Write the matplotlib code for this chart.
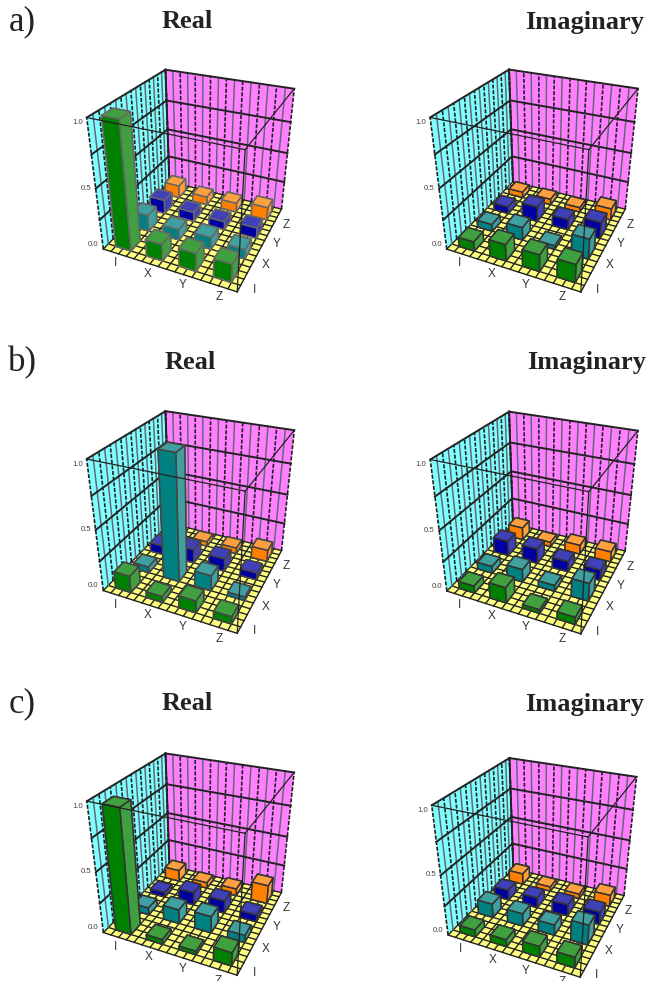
import numpy as np
import matplotlib
matplotlib.use("Agg")
import matplotlib.pyplot as plt

plt.rcParams['font.family'] = ['Liberation Sans', 'DejaVu Sans']

paulis = ["I", "X", "Y", "Z"]
z_ticks = [0.0, 0.5, 1.0]
row_labels = ["a)", "b)", "c)"]
titles = ["Real", "Imaginary"]

# one row per second index (I, X, Y, Z), one column per first index
a_real = [[1.00, 0.14, 0.15, 0.15],
          [0.14, 0.09, 0.10, 0.08],
          [0.12, 0.08, 0.07, 0.09],
          [0.11, 0.07, 0.08, 0.11]]
a_imag = [[0.08, 0.14, 0.14, 0.15],
          [0.06, 0.11, 0.03, 0.17],
          [0.06, 0.13, 0.09, 0.14],
          [0.05, 0.05, 0.04, 0.10]]
b_real = [[0.14, 0.05, 0.10, 0.06],
          [0.05, 1.00, 0.13, 0.03],
          [0.08, 0.12, 0.11, 0.06],
          [0.04, 0.04, 0.05, 0.10]]
b_imag = [[0.06, 0.13, 0.03, 0.06],
          [0.06, 0.11, 0.05, 0.15],
          [0.13, 0.13, 0.09, 0.09],
          [0.11, 0.04, 0.08, 0.09]]
c_real = [[0.97, 0.04, 0.03, 0.11],
          [0.06, 0.12, 0.14, 0.06],
          [0.04, 0.11, 0.11, 0.06],
          [0.10, 0.05, 0.06, 0.16]]
c_imag = [[0.06, 0.06, 0.09, 0.09],
          [0.12, 0.11, 0.09, 0.17],
          [0.09, 0.09, 0.10, 0.11],
          [0.10, 0.04, 0.04, 0.10]]

dark = ["#008000", "#008080", "#0000a0", "#ff8000"]
light = ["#40a040", "#40a0a0", "#4040b8", "#ffa040"]

W = 647
H = 981


def draw_panel(cx, cy, size, values, edge):
    ax = fig.add_axes([(cx - size / 2) / W, (cy - size / 2) / H, size / W, size / H],
                      projection="3d", computed_zorder=False)
    ax.set_xlim(0, 4)
    ax.set_ylim(0, 4)
    ax.set_zlim(0, 1)
    ax.set_box_aspect((1, 1, 1))
    ax.view_init(29.8, -65.4)
    ax.set_proj_type("persp", focal_length=0.362)
    ax.set_axis_off()
    ax.patch.set_alpha(0)

    # walls and floor are flat bars so they stay plain 3d polygons
    ax.bar3d(0, 0, 0, 4, 4, 0.0001, color="#ffff80", shade=False, zorder=1)
    ax.bar3d(0, 0, 0, 0.0001, 4, 1, color="#80ffff", shade=False, zorder=1)
    ax.bar3d(0, 4, 0, 4, 0.0001, 1, color="#ff80ff", shade=False, zorder=1)

    grid = "#222222"
    for i in range(17):
        p = i / 4
        ax.plot([p, p], [0, 4], [0, 0], color=grid, lw=1.0, zorder=2)
        ax.plot([0, 4], [p, p], [0, 0], color=grid, lw=1.0, zorder=2)
        if i % 2 == 0:
            ax.plot([0, 0], [p, p], [0, 1], color="#222222", lw=1.2, ls=(0, (2.4, 1.0)), zorder=2)
            ax.plot([p, p], [4, 4], [0, 1], color="#222222", lw=1.2, ls=(0, (2.4, 1.0)), zorder=2)
        else:
            ax.plot([0, 0], [p, p], [0, 1], color="#666677", lw=1.1, zorder=2)
            ax.plot([p, p], [4, 4], [0, 1], color="#666677", lw=1.1, zorder=2)
    for z in [0.25, 0.5, 0.75, 1.0]:
        ax.plot([0, 0], [0, 4], [z, z], color=grid, lw=1.4, zorder=2)
        ax.plot([0, 4], [4, 4], [z, z], color=grid, lw=1.4, zorder=2)
    ax.plot([0, 0], [4, 4], [0, 1], color=grid, lw=1.4, zorder=2)

    # back to front so nearer bars cover the far ones
    order = 3
    for row in range(3, -1, -1):
        for col in range(4):
            order += 1
            faces = [dark[row], light[row], dark[row], dark[row], light[row], light[row]]
            ax.bar3d(col + 0.25, row + 0.25, 0, 0.5, 0.5, values[row][col],
                     color=faces, edgecolor=edge, linewidth=1.1, shade=False, zorder=order)

    # near edges of the box run over the bars
    line = "#222222"
    ax.plot([0, 4], [0, 0], [1, 1], color=line, lw=0.9, zorder=50)
    ax.plot([4, 4], [0, 4], [1, 1], color=line, lw=0.9, zorder=50)
    ax.plot([4, 4], [0, 0], [0, 1], color=line, lw=0.9, zorder=50)

    for i, name in enumerate(paulis):
        ax.text(i + 0.65, -0.36, 0, name, color="#333333", fontsize=8.5, ha="center", va="center", zorder=60)
        ax.text(4.36, i + 0.25, 0, name, color="#333333", fontsize=8.5, ha="center", va="center", zorder=60)
    for z in z_ticks:
        ax.text(-0.14, 0, 0.03 + 0.93 * z, f"{z:.1f}", color="#444444", fontsize=5.6,
                ha="right", va="center", zorder=60)
    return ax


fig = plt.figure(figsize=(W / 100, H / 100), dpi=100)

panels = [(194.5, 808, 242.2, a_real, "#666666"), (538.1, 808, 242.6, a_imag, "#333333"),
          (194.5, 466.5, 242.3, b_real, "#444444"), (538.1, 466, 242.3, b_imag, "#333333"),
          (194.5, 124.4, 241.9, c_real, "#333333"), (538.1, 121, 239.0, c_imag, "#333333")]
for cx, cy, size, values, edge in panels:
    draw_panel(cx, cy, size, values, edge)

title_y = [22, 363, 704]
for r in range(3):
    fig.text(22 / W, 1 - title_y[r] / H, row_labels[r], family="Liberation Serif", fontsize=25,
             ha="center", va="center", color="#222222")
    fig.text((187 + (r == 1) * 3) / W, 1 - title_y[r] / H, titles[0], family="Liberation Serif", fontsize=19,
             fontweight="bold", ha="center", va="center", color="#222222")
    fig.text((585 + (r == 1) * 2) / W, 1 - title_y[r] / H, titles[1], family="Liberation Serif", fontsize=19,
             fontweight="bold", ha="center", va="center", color="#222222")

fig.savefig("out.png", dpi=100)
